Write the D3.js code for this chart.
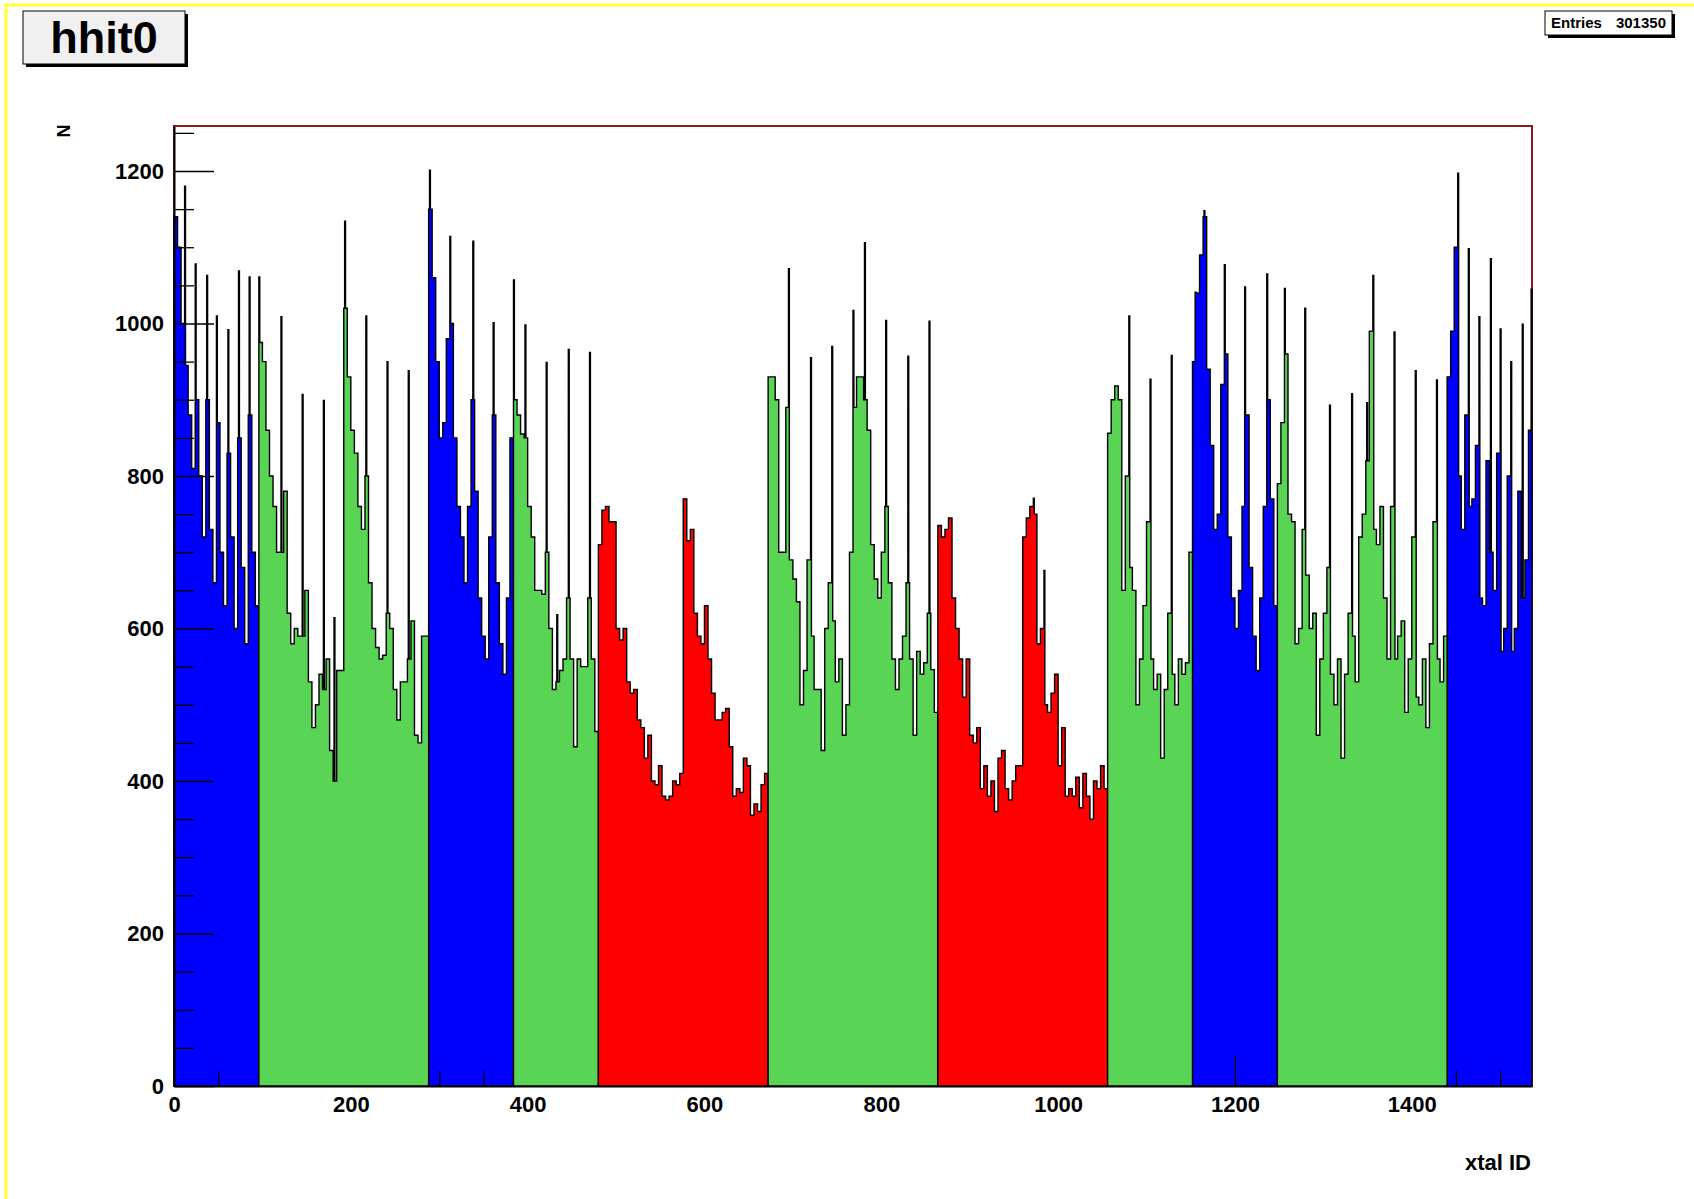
<!DOCTYPE html>
<html>
<head>
<meta charset="utf-8">
<script src="https://cdn.jsdelivr.net/npm/d3@7"></script>
<style>
body { margin: 0; background: #fff; }
svg { display: block; }
text { font-family: "Liberation Sans", Arial, sans-serif; font-weight: bold; }
</style>
</head>
<body>
<svg id="chart"></svg>
<script>
var W = 1694, H = 1199;
var nBins = 1536;

// counts per group of 4 xtals, 24 groups per 96-xtal block
var baseCounts = [
  1140,1100,1000,945,880,810,900,800,720,900,730,660,870,700,630,830,720,600,850,680,580,880,700,630,
  975,950,860,800,760,700,700,780,620,580,600,590,590,650,530,470,500,540,520,560,440,400,545,545,
  1020,930,860,830,760,730,800,660,600,575,560,565,620,600,520,480,530,530,560,610,460,450,590,590,
  1150,1060,950,850,870,980,1000,850,760,720,660,760,900,780,640,590,560,720,880,660,580,540,640,850,
  900,880,855,850,760,720,650,650,645,700,600,520,530,545,560,640,560,445,560,550,550,640,560,465,
  710,755,760,740,740,600,585,600,530,515,520,480,470,430,460,400,395,420,380,375,380,400,395,410,
  770,715,730,620,590,580,630,560,515,480,480,490,495,445,380,390,385,430,420,355,370,360,395,410,
  930,930,900,700,700,890,690,665,635,500,545,690,590,520,520,440,600,660,610,530,560,460,500,700,
  890,930,930,900,860,710,665,640,700,760,660,560,520,560,590,660,560,460,570,540,555,620,546,490,
  735,720,730,745,640,600,560,510,560,460,450,470,390,420,380,400,360,430,440,390,375,400,420,420,
  720,745,760,750,580,600,500,490,515,540,420,470,380,390,380,405,365,410,380,350,400,390,420,390,
  856,900,918,900,650,800,680,650,500,560,630,740,560,520,540,430,520,620,540,500,560,540,555,700,
  950,1040,1090,1140,940,840,730,750,920,960,720,640,600,650,760,880,680,590,545,640,760,900,770,630,
  790,870,960,750,740,580,600,730,670,600,620,460,560,620,680,540,500,560,430,540,620,590,530,720,
  750,820,990,730,710,760,640,560,760,560,590,610,490,560,720,510,500,560,470,580,740,560,530,590,
  930,990,1100,800,730,880,760,770,840,640,630,820,700,650,830,570,600,800,570,600,780,640,690,860
];

// single hot xtals sticking out of the block shape
var spikeBins = [12,24,37,48,61,73,85,96, 121,145,169,181, 193,217,241,265,
  289,312,338,361,384, 397,421,433,446,470, 695,720,744,768, 781,805,830,854,
  972,984, 1080,1104,1128, 1155,1165,1188,1211,1236, 1256,1279,1307,1332,
  1349,1356,1380,1404,1428, 1452,1464,1476,1489,1500,1512,1525,1535];
var spikeCounts = [1180,1078,1063,1010,992,1069,1061,1061, 1009,907,899,614, 1134,1010,950,938,
  1201,1114,1108,1001,1057, 998,949,618,966,962, 1072,955,970,1017, 1106,1004,957,1003,
  771,676, 1010,927,958, 1041,1148,1077,1048,1065, 1046,1020,893,908,
  896,1063,989,938,926, 1197,1098,1009,1085,993,950,999,1045];

var regionEdges = [0,96,288,384,480,672,864,1056,1152,1248,1440,1536];
var regionColors = ["#0000ff","#59d454","#0000ff","#59d454","#ff0000","#59d454",
                    "#ff0000","#59d454","#0000ff","#59d454","#0000ff"];

var xTicks = [0,200,400,600,800,1000,1200,1400];
var xMinor = [50,100,150,250,300,350,450,500,550,650,700,750,850,900,950,1050,1100,1150,1250,1300,1350,1450,1500];
var yTicks = [0,200,400,600,800,1000,1200];
var yMinor = [50,100,150,250,300,350,450,500,550,650,700,750,850,900,950,1050,1100,1150,1250];

var svg = d3.select("#chart").attr("width", W).attr("height", H);

var x = d3.scaleLinear().domain([0, nBins]).range([174, 1532]);
var y = d3.scaleLinear().domain([0, 1259]).range([1086, 126]);

var counts = [];
for (var i = 0; i < nBins; i++) counts.push(baseCounts[Math.floor(i / 4)]);
spikeBins.forEach(function(b, j) { counts[b] = spikeCounts[j]; });

// canvas highlight
svg.append("rect").attr("x", 6).attr("y", 5).attr("width", W - 4).attr("height", H - 2)
  .attr("fill", "none").attr("stroke", "#ffff33").attr("stroke-width", 3);

// frame
svg.append("rect").attr("x", 174).attr("y", 126).attr("width", 1358).attr("height", 960)
  .attr("fill", "none").attr("stroke", "#8b1c1c").attr("stroke-width", 2);

var area = d3.area()
  .x(function(d) { return x(d.i); })
  .y0(y(0))
  .y1(function(d) { return y(d.v); })
  .curve(d3.curveStepAfter);

function drawRegion(k) {
  var a = regionEdges[k], b = regionEdges[k + 1];
  var pts = d3.range(a, b + 1).map(function(i) { return {i: i, v: counts[Math.min(i, b - 1)]}; });
  svg.append("path").datum(pts)
    .attr("d", area)
    .attr("fill", regionColors[k])
    .attr("stroke", "#000")
    .attr("stroke-width", 1.4)
    .attr("stroke-linejoin", "miter");
}

// blue blocks sit under the axis ticks, the others over them
regionColors.forEach(function(c, k) { if (c == "#0000ff") drawRegion(k); });

var gy = svg.append("g").attr("transform", "translate(174,0)")
  .call(d3.axisLeft(y).tickValues(yTicks).tickFormat(d3.format("d"))
    .tickSizeInner(-40).tickSizeOuter(0).tickPadding(10));
svg.append("g").attr("transform", "translate(174,0)")
  .call(d3.axisLeft(y).tickValues(yMinor).tickSizeInner(-20).tickSizeOuter(0).tickFormat(""))
  .select(".domain").remove();
var gx = svg.append("g").attr("transform", "translate(0,1086)")
  .call(d3.axisBottom(x).tickValues(xTicks).tickFormat(d3.format("d"))
    .tickSizeInner(-30).tickSizeOuter(0).tickPadding(10));
svg.append("g").attr("transform", "translate(0,1086)")
  .call(d3.axisBottom(x).tickValues(xMinor).tickSizeInner(-15).tickSizeOuter(0).tickFormat(""))
  .select(".domain").remove();

svg.selectAll(".tick line").attr("stroke", "#000").attr("stroke-width", 1.3);
svg.selectAll(".domain").attr("stroke", "#000").attr("stroke-width", 2);
gy.selectAll("text").attr("font-size", 22).attr("font-family", "Liberation Sans").attr("font-weight", "bold");
gx.selectAll("text").attr("font-size", 22).attr("font-family", "Liberation Sans").attr("font-weight", "bold");

regionColors.forEach(function(c, k) { if (c != "#0000ff") drawRegion(k); });

// axis titles
svg.append("text").attr("transform", "translate(70,131) rotate(-90)")
  .attr("text-anchor", "middle").attr("font-size", 18).text("N");
svg.append("text").attr("x", 1531).attr("y", 1170)
  .attr("text-anchor", "end").attr("font-size", 22).text("xtal ID");

// title box
svg.append("rect").attr("x", 26).attr("y", 14).attr("width", 162).attr("height", 53).attr("fill", "#000");
svg.append("rect").attr("x", 23).attr("y", 11).attr("width", 162).attr("height", 53)
  .attr("fill", "#f0f0f0").attr("stroke", "#000").attr("stroke-width", 1);
svg.append("text").attr("x", 104).attr("y", 53).attr("text-anchor", "middle")
  .attr("font-size", 45).text("hhit0");

// stats box
svg.append("rect").attr("x", 1548).attr("y", 14).attr("width", 127).attr("height", 24).attr("fill", "#000");
svg.append("rect").attr("x", 1545).attr("y", 11).attr("width", 127).attr("height", 24)
  .attr("fill", "#fff").attr("stroke", "#000").attr("stroke-width", 1);
svg.append("text").attr("x", 1551).attr("y", 28).attr("font-size", 15).text("Entries");
svg.append("text").attr("x", 1666).attr("y", 28).attr("text-anchor", "end").attr("font-size", 15).text("301350");
</script>
</body>
</html>
